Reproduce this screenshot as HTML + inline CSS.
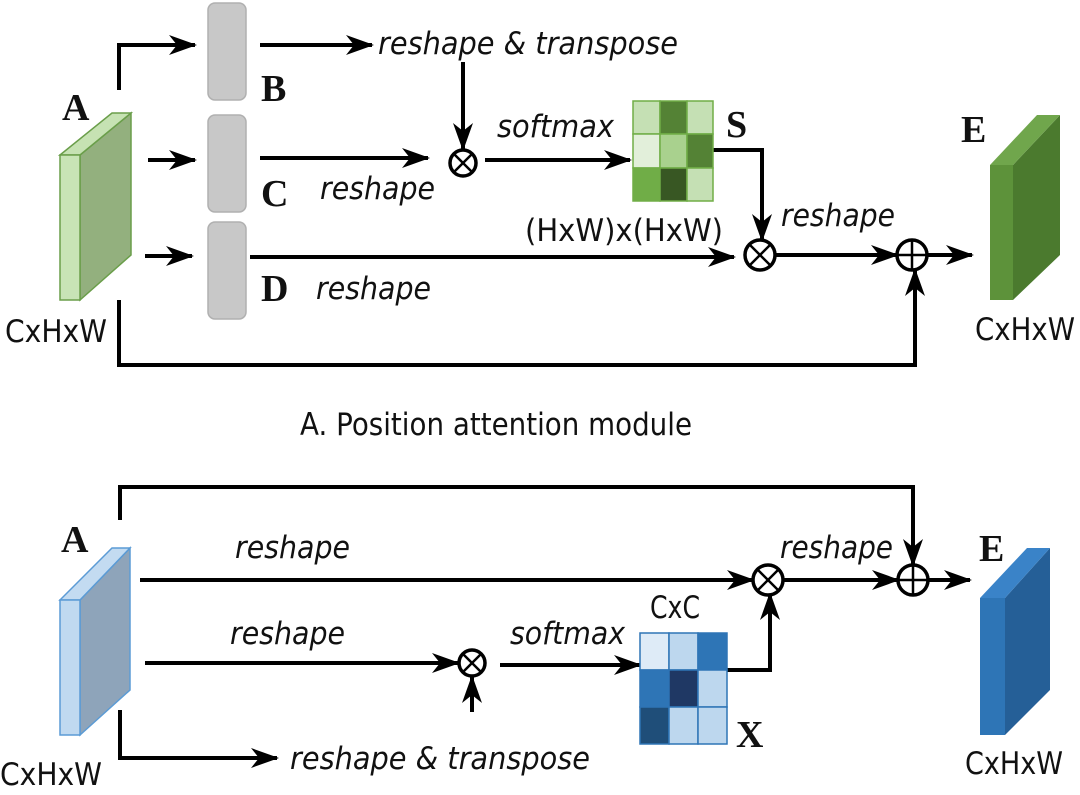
<!DOCTYPE html>
<html><head><meta charset="utf-8"><style>
html,body{margin:0;padding:0;background:#fff;}
svg{display:block;}
.it{font-family:"DejaVu Sans","Liberation Sans",sans-serif;font-style:italic;font-size:31px;fill:#111;}
.n{font-family:"DejaVu Sans","Liberation Sans",sans-serif;font-size:31px;fill:#111;}
.b{font-family:"Liberation Serif",serif;font-weight:bold;font-size:38px;fill:#111;}
</style></head><body>
<svg width="1080" height="795" viewBox="0 0 1080 795" xmlns="http://www.w3.org/2000/svg">
<defs>
<marker id="ar2" markerWidth="28" markerHeight="20" refX="26" refY="10" orient="auto" markerUnits="userSpaceOnUse">
<path d="M0,0 L28,10 L0,20 L8,10 Z" fill="#000"/>
</marker>
</defs>
<g stroke="#000" stroke-width="4" fill="none">
<polyline points="119,90 119,45 195,45" marker-end="url(#ar2)"/>
<line x1="148" y1="160" x2="195" y2="160" marker-end="url(#ar2)"/>
<line x1="145" y1="256" x2="192" y2="256" marker-end="url(#ar2)"/>
<line x1="260" y1="45" x2="372" y2="45" marker-end="url(#ar2)"/>
<line x1="260" y1="158" x2="428" y2="158" marker-end="url(#ar2)"/>
<line x1="463" y1="62" x2="463" y2="149" marker-end="url(#ar2)"/>
<line x1="485" y1="160" x2="630" y2="160" marker-end="url(#ar2)"/>
<line x1="250" y1="257" x2="734" y2="257" marker-end="url(#ar2)"/>
<polyline points="713,150 762,150 762,240" marker-end="url(#ar2)"/>
<line x1="776" y1="255" x2="897" y2="255" marker-end="url(#ar2)"/>
<line x1="926" y1="255" x2="972" y2="255" marker-end="url(#ar2)"/>
<polyline points="119,300 119,365 915,365 915,270" marker-end="url(#ar2)"/>
<polyline points="120,520 120,487 913,487 913,565" marker-end="url(#ar2)"/>
<line x1="140" y1="580" x2="753" y2="580" marker-end="url(#ar2)"/>
<line x1="784" y1="580" x2="898" y2="580" marker-end="url(#ar2)"/>
<line x1="928" y1="580" x2="970" y2="580" marker-end="url(#ar2)"/>
<line x1="145" y1="663" x2="458" y2="663" marker-end="url(#ar2)"/>
<line x1="500" y1="665" x2="640" y2="665" marker-end="url(#ar2)"/>
<polyline points="727,670 770,670 770,594" marker-end="url(#ar2)"/>
<line x1="472" y1="712" x2="472" y2="677" marker-end="url(#ar2)"/>
<polyline points="120,710 120,758 277,758" marker-end="url(#ar2)"/>
</g>
<g stroke="#000" stroke-width="3.5" fill="#fff">
<circle cx="463" cy="163" r="13"/>
<circle cx="760" cy="255" r="15"/>
<circle cx="912" cy="255" r="15"/>
<circle cx="768" cy="580" r="15"/>
<circle cx="913" cy="580" r="15"/>
<circle cx="472" cy="663" r="13"/>
</g>
<g stroke="#000" stroke-width="2.5">
<line x1="454" y1="154" x2="472" y2="172"/><line x1="472" y1="154" x2="454" y2="172"/>
<line x1="750" y1="245" x2="770" y2="265"/><line x1="770" y1="245" x2="750" y2="265"/>
<line x1="897" y1="255" x2="927" y2="255"/><line x1="912" y1="240" x2="912" y2="270"/>
<line x1="758" y1="570" x2="778" y2="590"/><line x1="778" y1="570" x2="758" y2="590"/>
<line x1="898" y1="580" x2="928" y2="580"/><line x1="913" y1="565" x2="913" y2="595"/>
<line x1="463" y1="654" x2="481" y2="672"/><line x1="481" y1="654" x2="463" y2="672"/>
</g>
<g fill="#c8c8c8" stroke="#b0b0b0" stroke-width="1.5">
<rect x="208" y="3" width="38" height="97" rx="7"/>
<rect x="208" y="115" width="38" height="97" rx="7"/>
<rect x="208" y="222" width="38" height="97" rx="7"/>
</g>
<g stroke="#6a9e4a" stroke-width="1.5">
<polygon points="80,155 131,113 131,255 80,300" fill="#93b07e"/>
<polygon points="60,155 112,113 131,113 80,155" fill="#c6e2b3"/>
<rect x="60" y="155" width="20" height="145" fill="#c8e4b6"/>
</g>
<g>
<polygon points="1013,165 1060,115 1060,255 1013,300" fill="#4b7a2e"/>
<polygon points="990,165 1037,115 1060,115 1013,165" fill="#70a64c"/>
<rect x="990" y="165" width="23" height="135" fill="#5d923a"/>
</g>
<g stroke="#5b9bd5" stroke-width="1.5">
<polygon points="80,600 130,548 130,690 80,735" fill="#8ea4ba"/>
<polygon points="60,600 112,548 130,548 80,600" fill="#c3dbf1"/>
<rect x="60" y="600" width="20" height="135" fill="#c0d9f0"/>
</g>
<g>
<polygon points="1005,598 1050,548 1050,690 1005,735" fill="#255f97"/>
<polygon points="980,598 1027,548 1050,548 1005,598" fill="#3a83c8"/>
<rect x="980" y="598" width="25" height="137" fill="#2e75b6"/>
</g>
<g stroke="#70ad47" stroke-width="1.5">
<rect x="633" y="101" width="27" height="33" fill="#c5e0b4"/>
<rect x="660" y="101" width="27" height="33" fill="#548235"/>
<rect x="687" y="101" width="26" height="33" fill="#c5e0b4"/>
<rect x="633" y="134" width="27" height="34" fill="#e2efda"/>
<rect x="660" y="134" width="27" height="34" fill="#a9d18e"/>
<rect x="687" y="134" width="26" height="34" fill="#548235"/>
<rect x="633" y="168" width="27" height="33" fill="#70ad47"/>
<rect x="660" y="168" width="27" height="33" fill="#385723"/>
<rect x="687" y="168" width="26" height="33" fill="#c5e0b4"/>
</g>
<g stroke="#2e75b6" stroke-width="1.5">
<rect x="640" y="633" width="29" height="37" fill="#deebf7"/>
<rect x="669" y="633" width="29" height="37" fill="#bdd7ee"/>
<rect x="698" y="633" width="29" height="37" fill="#2e75b6"/>
<rect x="640" y="670" width="29" height="37" fill="#2e75b6"/>
<rect x="669" y="670" width="29" height="37" fill="#1f3864"/>
<rect x="698" y="670" width="29" height="37" fill="#bdd7ee"/>
<rect x="640" y="707" width="29" height="37" fill="#1f4e79"/>
<rect x="669" y="707" width="29" height="37" fill="#bdd7ee"/>
<rect x="698" y="707" width="29" height="37" fill="#bdd7ee"/>
</g>
<text class="b" x="62" y="120">A</text>
<text class="b" x="261" y="101">B</text>
<text class="b" x="261" y="206">C</text>
<text class="b" x="261" y="301">D</text>
<text class="b" x="726" y="137">S</text>
<text class="b" x="961" y="142">E</text>
<text class="b" x="61" y="552">A</text>
<text class="b" x="979" y="561">E</text>
<text class="b" x="736" y="747">X</text>
<text class="it" x="378" y="54" textLength="300" lengthAdjust="spacingAndGlyphs">reshape &amp; transpose</text>
<text class="it" x="497" y="137" textLength="117" lengthAdjust="spacingAndGlyphs">softmax</text>
<text class="it" x="320" y="199" textLength="115" lengthAdjust="spacingAndGlyphs">reshape</text>
<text class="it" x="316" y="299" textLength="115" lengthAdjust="spacingAndGlyphs">reshape</text>
<text class="n" x="525" y="241" textLength="198" lengthAdjust="spacingAndGlyphs">(HxW)x(HxW)</text>
<text class="it" x="781" y="226" textLength="114" lengthAdjust="spacingAndGlyphs">reshape</text>
<text class="n" x="5" y="342" textLength="102" lengthAdjust="spacingAndGlyphs">CxHxW</text>
<text class="n" x="975" y="340" textLength="100" lengthAdjust="spacingAndGlyphs">CxHxW</text>
<text class="n" x="300" y="435" textLength="392" lengthAdjust="spacingAndGlyphs">A. Position attention module</text>
<text class="it" x="235" y="558" textLength="115" lengthAdjust="spacingAndGlyphs">reshape</text>
<text class="it" x="780" y="558" textLength="113" lengthAdjust="spacingAndGlyphs">reshape</text>
<text class="it" x="230" y="644" textLength="115" lengthAdjust="spacingAndGlyphs">reshape</text>
<text class="it" x="510" y="644" textLength="115" lengthAdjust="spacingAndGlyphs">softmax</text>
<text class="n" x="650" y="618" textLength="50" lengthAdjust="spacingAndGlyphs">CxC</text>
<text class="it" x="290" y="769" textLength="300" lengthAdjust="spacingAndGlyphs">reshape &amp; transpose</text>
<text class="n" x="0" y="785" textLength="102" lengthAdjust="spacingAndGlyphs">CxHxW</text>
<text class="n" x="965" y="774" textLength="98" lengthAdjust="spacingAndGlyphs">CxHxW</text>
</svg>
</body></html>
